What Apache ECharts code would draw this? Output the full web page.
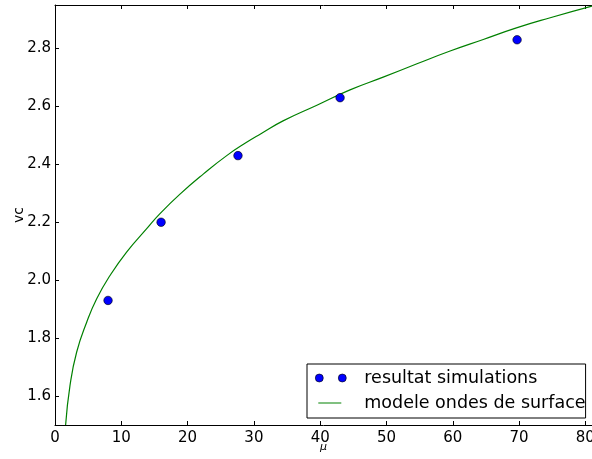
<!DOCTYPE html>
<html>
<head>
<meta charset="utf-8">
<script src="https://cdn.jsdelivr.net/npm/echarts@6/dist/echarts.min.js"></script>
<style>html,body{margin:0;padding:0;background:#fff}#c{width:592px;height:459px}</style>
</head>
<body>
<div id="c"></div>
<script>
// simulation results
const simMu = [8.0, 16.0, 27.6, 43.0, 69.7];
const simVc = [1.93, 2.20, 2.43, 2.63, 2.83];
// surface wave model curve
const modelMu = [1.6, 2.26, 3.27, 4.78, 6.29, 8.30, 10.8, 13.8, 15.8, 18.9, 22.4, 25.9, 28.9,
                 31.0, 34.4, 39.5, 44.5, 49.5, 54.6, 59.6, 64.6, 69.6, 74.7, 81.0];
const modelVc = [1.50, 1.636, 1.752, 1.855, 1.936, 2.016, 2.097, 2.177, 2.229, 2.298, 2.367, 2.430, 2.476,
                 2.505, 2.550, 2.604, 2.657, 2.701, 2.747, 2.791, 2.831, 2.871, 2.906, 2.946];
// ticks
const xTicks = [0, 10, 20, 30, 40, 50, 60, 70, 80];
const yTicks = [1.6, 1.8, 2.0, 2.2, 2.4, 2.6, 2.8];
const seriesNames = ['resultat simulations', 'modele ondes de surface'];

const font = 'DejaVu Sans';
const chart = echarts.init(document.getElementById('c'), null, {renderer: 'canvas'});
const axisLine = {show: true, lineStyle: {color: '#000', width: 1}};
chart.setOption({
  animation: false,
  backgroundColor: '#fff',
  grid: {left: 55, right: 0, top: 5, bottom: 34, outerBoundsMode: 'none', containLabel: false},
  legend: {
    orient: 'vertical', left: 307, top: 364,
    padding: [5, 0, 6, 8],
    borderColor: '#000', borderWidth: 1, borderRadius: 0,
    itemWidth: 31, itemHeight: 8, itemGap: 7,
    textStyle: {fontFamily: font, fontSize: 17.5, color: '#000', padding: [0, 0, 0, 13]},
    data: [
      {name: seriesNames[0], icon: 'path://M0,4a4,4 0 1,0 8,0a4,4 0 1,0 -8,0ZM23,4a4,4 0 1,0 8,0a4,4 0 1,0 -8,0Z',
       itemStyle: {color: '#0000ff', borderColor: '#000', borderWidth: 0.6}},
      {name: seriesNames[1], icon: 'path://M0,0M31,8M3,3.5H26V4.5H3Z', itemStyle: {color: '#008000', borderWidth: 0}}
    ]
  },
  xAxis: [{
    type: 'value', min: 0, max: 81, position: 'bottom',
    name: 'μ', nameLocation: 'middle', nameGap: 17, nameMoveOverlap: false,
    nameTextStyle: {fontFamily: font, fontSize: 11, fontStyle: 'italic', color: '#000'},
    axisLine: axisLine,
    axisTick: {show: true, inside: true, length: 4, customValues: xTicks, lineStyle: {color: '#000'}},
    axisLabel: {fontFamily: font, fontSize: 15, color: '#000', margin: 6, customValues: xTicks},
    splitLine: {show: false}
  }, {
    type: 'value', min: 0, max: 81, position: 'top',
    axisLine: axisLine,
    axisTick: {show: true, inside: true, length: 4, customValues: xTicks, lineStyle: {color: '#000'}},
    axisLabel: {show: false},
    splitLine: {show: false}
  }],
  yAxis: {
    type: 'value', min: 1.5, max: 2.95,
    name: 'vc', nameLocation: 'middle', nameGap: 29, nameMoveOverlap: false,
    nameTextStyle: {fontFamily: font, fontSize: 14, color: '#000'},
    axisLine: axisLine,
    axisTick: {show: true, inside: true, length: 4, customValues: yTicks, lineStyle: {color: '#000'}},
    axisLabel: {fontFamily: font, fontSize: 15, color: '#000', margin: 4, customValues: yTicks,
      formatter: v => v.toFixed(1)},
    splitLine: {show: false}
  },
  series: [{
    name: seriesNames[1], type: 'line', xAxisIndex: 0,
    data: modelMu.map((m, i) => [m, modelVc[i]]),
    showSymbol: false, smooth: 0.5,
    lineStyle: {color: '#008000', width: 1.2},
    itemStyle: {color: '#008000'}, z: 2
  }, {
    name: seriesNames[0], type: 'scatter', xAxisIndex: 0,
    data: simMu.map((m, i) => [m, simVc[i]]),
    symbol: 'circle', symbolSize: 8.5,
    itemStyle: {color: '#0000ff', borderColor: '#000', borderWidth: 0.6, opacity: 1}, z: 3
  }]
});
</script>
</body>
</html>
